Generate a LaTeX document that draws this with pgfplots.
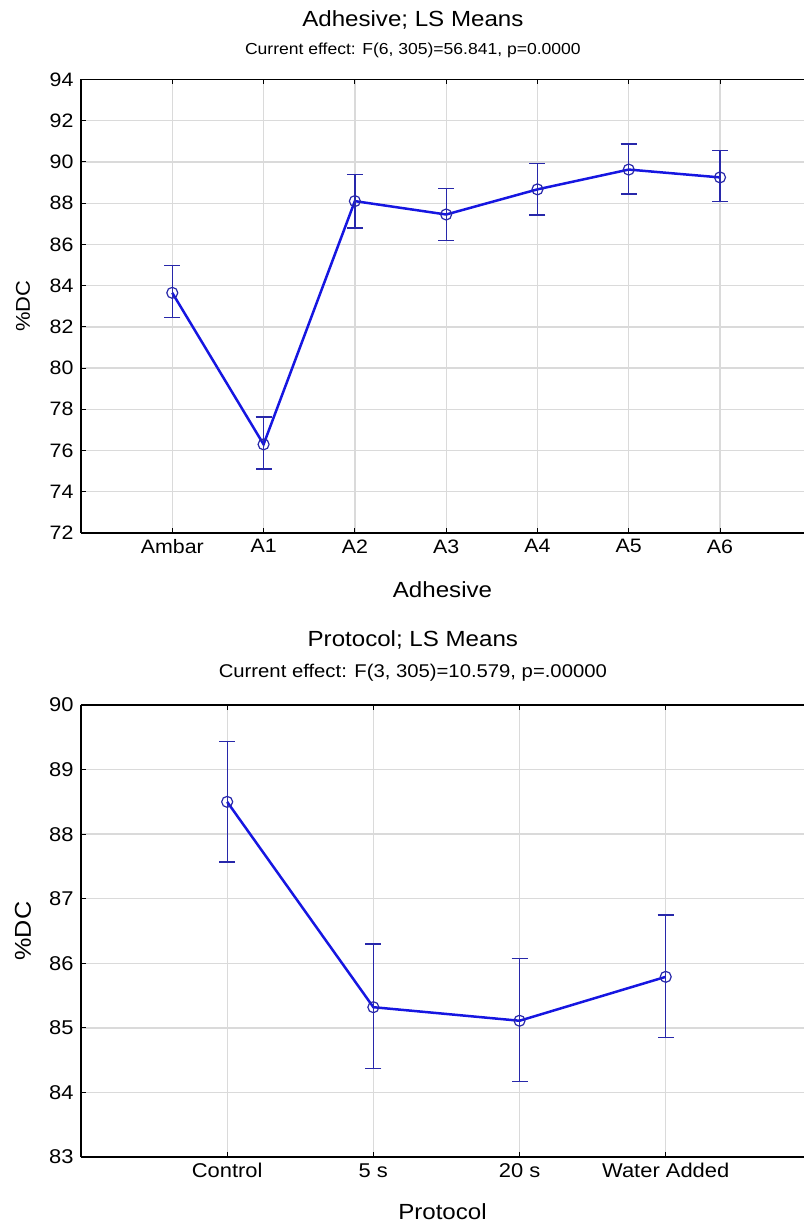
\documentclass[border=0pt]{standalone}
\usepackage{fontspec}
\setmainfont{Liberation Sans}[FakeStretch=1.1]
\usepackage{pgfplots}
\pgfplotsset{compat=1.18}
\definecolor{lineblue}{RGB}{22,22,225}
\definecolor{errblue}{RGB}{40,40,170}
\definecolor{gridgray}{RGB}{218,218,218}
\pgfplotsset{
  lsstyle/.style={
    scale only axis,
    width=723bp,
    axis x line*=box,
    axis y line*=left,
    tick align=inside,
    major tick length=5bp,
    axis line style={black,line width=1.4bp},
    tick style={black,line width=1bp},
    grid=major,
    major grid style={draw=gridgray,line width=1.3bp},
    xmin=-1,
    clip=false,
    /pgf/number format/assume math mode=true,
    tick label style={font=\fontsize{19.5}{21}\selectfont},
    yticklabel style={xshift=-4bp},
    xticklabel style={yshift=-3bp},
    label style={font=\fontsize{22}{25}\selectfont},
  },
  lsplot/.style={
    color=lineblue, line width=2.5bp,
    mark=o, mark size=5.5bp,
    mark options={draw=errblue,line width=1.2bp,fill=none},
    error bars/.cd, y dir=both, y explicit,
    error bar style={line width=1.3bp,draw=errblue},
    error mark options={rotate=90,mark size=8bp,line width=1.3bp,draw=errblue},
  },
}
\begin{document}
\begin{tikzpicture}
% Top chart
\begin{axis}[lsstyle,
  at={(0bp,624bp)}, anchor=south west,
  height=453.5bp,
  xmax=6.92, ymin=72, ymax=94,
  xtick={0,1,2,3,4,5,6},
  xticklabels={Ambar,A1,A2,A3,A4,A5,A6},
  ytick={72,74,76,78,80,82,84,86,88,90,92,94},
  xlabel={Adhesive},
  ylabel={\%DC},
  xlabel style={at={(axis description cs:0.5,-0.1257)},anchor=center},
  ylabel style={at={(axis description cs:-0.0802,0.5)},anchor=center,font=\fontsize{20}{23}\selectfont},
]
\addplot[lsplot] coordinates {
  (0,83.65) += (0,1.34) -= (0,1.19)
  (1,76.30) += (0,1.32) -= (0,1.20)
  (2,88.10) += (0,1.30) -= (0,1.30)
  (3,87.45) += (0,1.27) -= (0,1.25)
  (4,88.67) += (0,1.27) -= (0,1.25)
  (5,89.63) += (0,1.24) -= (0,1.18)
  (6,89.25) += (0,1.29) -= (0,1.18)
};
\node[font=\fontsize{22}{26}\selectfont] at (axis description cs:0.459,1.131) {Adhesive; LS Means};
\node[font=\fontsize{16}{19}\selectfont] at (axis description cs:0.459,1.065) {Current effect: F(6, 305)=56.841, p=0.0000};
\end{axis}
% Bottom chart
\begin{axis}[lsstyle,
  at={(0bp,0bp)}, anchor=south west,
  height=452bp,
  xmax=3.946, ymin=83, ymax=90,
  xtick={0,1,2,3},
  xticklabels={Control,5 s,20 s,Water Added},
  ytick={83,84,85,86,87,88,89,90},
  tick label style={font=\fontsize{20}{22}\selectfont},
  xlabel={Protocol},
  ylabel={\%DC},
  xlabel style={at={(axis description cs:0.5,-0.1217)},anchor=center},
  ylabel style={at={(axis description cs:-0.0802,0.5)},anchor=center,font=\fontsize{23}{26}\selectfont},
]
\addplot[lsplot] coordinates {
  (0,88.50) += (0,0.94) -= (0,0.93)
  (1,85.32) += (0,0.98) -= (0,0.95)
  (2,85.11) += (0,0.96) -= (0,0.94)
  (3,85.79) += (0,0.96) -= (0,0.94)
};
\node[font=\fontsize{22}{26}\selectfont] at (axis description cs:0.459,1.144) {Protocol; LS Means};
\node[font=\fontsize{18.5}{21}\selectfont] at (axis description cs:0.459,1.071) {Current effect: F(3, 305)=10.579, p=.00000};
\end{axis}
\pgfresetboundingbox
\path[use as bounding box] (-81bp,-71bp) rectangle (723bp,1157bp);
\end{tikzpicture}
\end{document}
